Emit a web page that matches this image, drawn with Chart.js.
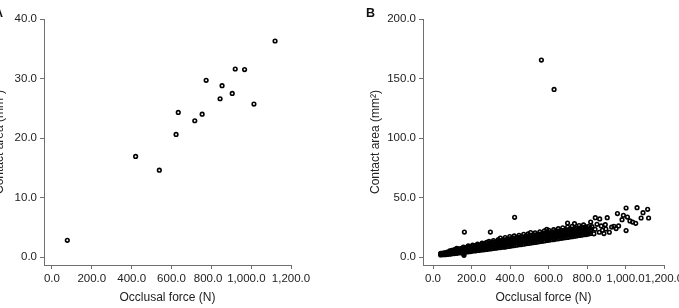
<!DOCTYPE html>
<html>
<head>
<meta charset="utf-8">
<script src="https://cdn.jsdelivr.net/npm/chart.js@4.4.1/dist/chart.umd.min.js"></script>
<style>
  html, body { margin: 0; padding: 0; background: #fff; }
  #wrap { position: relative; width: 679px; height: 308px; overflow: hidden; }
  canvas { position: absolute; top: 0; }
  #chartA { left: -60px; }
  #chartB { left: 340px; }
  .panel { position: absolute; font: bold 12.5px "Liberation Sans", Arial, sans-serif; color: #111; line-height: 1; }
</style>
</head>
<body>
<div id="wrap">
  <canvas id="chartA" width="400" height="308"></canvas>
  <canvas id="chartB" width="380" height="308"></canvas>
  <div class="panel" style="left:-6px; top:7px">A</div>
  <div class="panel" style="left:366px; top:7px">B</div>
</div>
<script>
// === Data ===
const xTicks = [0, 200, 400, 600, 800, 1000, 1200];
// panel A prints 800.0 and 1,000.0 nudged to the left, hence the trailing spaces
const xTickLabelsA = ["0.0", "200.0", "400.0", "600.0", "800.0  ", "1,000.0   ", "1,200.0"];
const xTickLabelsB = ["0.0", "200.0", "400.0", "600.0", "800.0", "1,000.0", "1,200.0"];
const yTicksA = [0, 10, 20, 30, 40];
const yTicksB = [0, 50, 100, 150, 200];

// Panel A
const forceA = [77, 420, 539, 623, 634, 717, 754, 774, 844, 854, 905, 920, 967, 1014, 1120];
const areaA = [2.8, 16.9, 14.6, 20.6, 24.3, 22.9, 24.0, 29.7, 26.6, 28.8, 27.5, 31.6, 31.5, 25.7, 36.3];

// Panel B - dense band, one column of areas per force value
const forceB = [40, 51, 63, 74, 87, 98, 111, 123, 134, 147, 158, 171, 183, 195, 206, 219, 231, 242, 255, 267,
  278, 291, 303, 314, 327, 339, 350, 363, 375, 386, 399, 411, 422, 435, 447, 458, 471, 483, 494, 507,
  519, 530, 543, 555, 566, 579, 591, 602, 615, 627, 638, 651, 663, 674, 687, 699, 710, 723, 735, 746,
  759, 771, 782, 795, 807, 818];
const areaB = [
  [1.7, 2.4, 3.0], [1.9, 2.8, 3.4], [2.0, 2.9, 3.7, 2.4], [2.2, 3.2, 4.2, 3.6], [2.4, 3.3, 4.4, 5.1],
  [2.7, 3.6, 4.8, 5.7], [2.9, 3.9, 5.0, 6.2], [3.1, 4.3, 5.3, 6.5, 7.3], [3.4, 4.5, 5.8, 6.8], [3.5, 4.9, 6.0, 7.2],
  [3.9, 5.1, 6.3, 7.7, 8.3], [4.2, 5.3, 6.8, 7.9], [4.4, 5.8, 7.0, 8.3, 9.3], [4.6, 6.0, 7.4, 8.6], [5.0, 6.2, 7.6, 9.0, 10.0],
  [5.1, 6.7, 8.0, 9.5], [5.5, 6.9, 8.4, 9.8, 10.9], [5.6, 7.1, 8.7, 10.1], [5.9, 7.6, 9.1, 10.6, 11.8], [6.2, 7.8, 9.3, 10.9],
  [6.4, 8.2, 9.7, 11.3, 12.4], [6.7, 8.4, 10.1, 11.9, 13.1], [6.9, 8.7, 10.5, 12.0], [7.2, 9.0, 10.7, 12.6, 13.8], [7.4, 9.4, 11.2, 12.8],
  [7.8, 9.6, 11.4, 13.3, 14.7], [7.9, 9.9, 11.9, 13.6, 15.9], [8.3, 10.2, 12.1, 14.2], [8.4, 10.6, 12.5, 14.4, 16.4], [8.8, 10.8, 12.9, 14.9],
  [9.0, 11.0, 13.2, 15.3, 17.2], [9.4, 11.4, 13.4, 15.6], [9.6, 11.8, 13.9, 15.8, 17.7], [9.9, 12.0, 14.1, 16.3], [10.3, 12.3, 14.5, 16.5, 18.2],
  [10.5, 12.7, 14.6, 16.9], [10.8, 12.9, 15.1, 17.0, 19.1], [11.2, 13.2, 15.3, 17.5], [11.4, 13.6, 15.5, 17.7, 19.5], [11.7, 13.8, 16.0, 18.1, 20.6],
  [12.1, 14.1, 16.2, 18.2], [12.3, 14.5, 16.4, 18.7, 20.4], [12.6, 14.7, 16.9, 18.9], [13.0, 15.0, 17.1, 19.3, 21.2], [13.2, 15.4, 17.4, 19.5],
  [13.5, 15.6, 17.8, 19.8, 22.0], [13.9, 15.9, 18.0, 20.2, 23.2], [14.1, 16.3, 18.3, 20.4, 22.4], [14.5, 16.5, 18.7, 20.7], [14.7, 16.9, 18.9, 21.1, 23.0],
  [15.1, 17.1, 19.3, 21.3], [15.3, 17.5, 19.5, 21.7, 23.8], [15.7, 17.7, 19.9, 21.9], [15.9, 18.1, 20.1, 22.3, 24.5], [16.3, 18.3, 20.5, 22.5],
  [16.5, 18.7, 20.7, 22.9, 25.2, 28.6], [16.9, 18.9, 21.1, 23.1], [17.1, 19.3, 21.3, 23.5, 25.8], [17.5, 19.5, 21.7, 23.7, 28.0], [17.7, 19.9, 21.9, 24.1],
  [18.1, 20.1, 22.3, 24.3, 26.4], [18.3, 20.5, 22.5, 24.7], [18.7, 20.7, 22.9, 25.0, 27.0], [18.9, 21.1, 23.1, 25.3], [19.3, 21.3, 23.5, 25.6],
  [19.8, 22.0, 24.1]
];

// Panel B - scattered points and outliers
const outlierForceB = [819, 826, 836, 842, 843, 852, 864, 866, 874, 880, 888, 895, 898, 905, 916, 928, 940, 951, 958, 964,
  982, 989, 1003, 1003, 1010, 1023, 1037, 1053, 1060, 1081, 1091, 1115, 1120, 160, 161, 163, 298, 424, 563, 629];
const outlierAreaB = [29.4, 25.5, 19.5, 23.3, 33.1, 27.5, 20.8, 32.0, 26.1, 22.5, 19.7, 27.2, 23.5, 33.1, 20.8, 25.2, 25.8, 23.9, 36.5, 26.1,
  31.4, 35.1, 41.2, 22.2, 33.6, 30.3, 29.4, 28.3, 41.5, 32.8, 37.3, 40.1, 32.8, 2.6, 1.4, 21.0, 21.0, 33.4, 165.5, 140.8];

// === Styles ===
const gray = "#707070";
const textColor = "#222";
const fontFamily = "'Liberation Sans', Arial, sans-serif";
const tickFont = { family: fontFamily, size: 11.5 };
const titleFont = { family: fontFamily, size: 12 };

const fmt = (v) =>
  v.toLocaleString("en-US", { minimumFractionDigits: 1, maximumFractionDigits: 1 });

function makeOptions(xMin, yMin, yMax, yTicks, xLabels, yWidth, padding) {
  return {
    responsive: false,
    animation: false,
    layout: { padding: padding },
    plugins: { legend: { display: false }, tooltip: { enabled: false } },
    scales: {
      x: {
        type: "linear",
        min: xMin,
        max: 1200,
        afterBuildTicks: (s) => {
          s.ticks = xTicks.map((v) => ({ value: v }));
        },
        afterFit: (s) => {
          s.height = 43;
        },
        grid: { display: true, drawOnChartArea: false, drawTicks: true, tickLength: 4, color: gray },
        border: { display: true, color: gray, width: 1 },
        ticks: {
          padding: 3, color: textColor, font: tickFont,
          autoSkip: false, maxRotation: 0, minRotation: 0,
          callback: (v, i) => xLabels[i],
        },
        title: {
          display: true, text: "Occlusal force (N)", color: textColor, font: titleFont,
          padding: { top: 0, bottom: 3 },
        },
      },
      y: {
        type: "linear",
        min: yMin,
        max: yMax,
        afterBuildTicks: (s) => {
          s.ticks = yTicks.map((v) => ({ value: v }));
        },
        afterFit: (s) => {
          s.width = yWidth;
        },
        grid: { display: true, drawOnChartArea: false, drawTicks: true, tickLength: 4, color: gray },
        border: { display: true, color: gray, width: 1 },
        ticks: { padding: 3, color: textColor, font: tickFont, autoSkip: false, callback: (v) => fmt(v) },
        title: {
          display: true, text: "Contact area (mm²)", color: textColor, font: titleFont,
          padding: { top: 0, bottom: 0 },
        },
      },
    },
  };
}

function pointDataset(points) {
  return {
    data: points,
    showLine: false,
    pointStyle: "circle",
    pointRadius: 1.8,
    pointBorderWidth: 1.6,
    pointBorderColor: "#000",
    pointBackgroundColor: "rgba(0,0,0,0)",
    clip: false,
  };
}

// === Panel A ===
const pointsA = forceA.map((x, i) => ({ x: x, y: areaA[i] }));
new Chart(document.getElementById("chartA"), {
  type: "scatter",
  data: { datasets: [pointDataset(pointsA)] },
  options: makeOptions(-40, -1.34, 40, yTicksA, xTickLabelsA, 52, { left: 52, right: 49, top: 19, bottom: 0 }),
});

// === Panel B ===
const pointsB = [];
forceB.forEach((x, i) => areaB[i].forEach((y) => pointsB.push({ x: x, y: y })));
outlierForceB.forEach((x, i) => pointsB.push({ x: x, y: outlierAreaB[i] }));

new Chart(document.getElementById("chartB"), {
  type: "scatter",
  data: { datasets: [pointDataset(pointsB)] },
  options: makeOptions(-52, -6.7, 200, yTicksB, xTickLabelsB, 55, { left: 28, right: 56, top: 19, bottom: 0 }),
});
</script>
</body>
</html>
